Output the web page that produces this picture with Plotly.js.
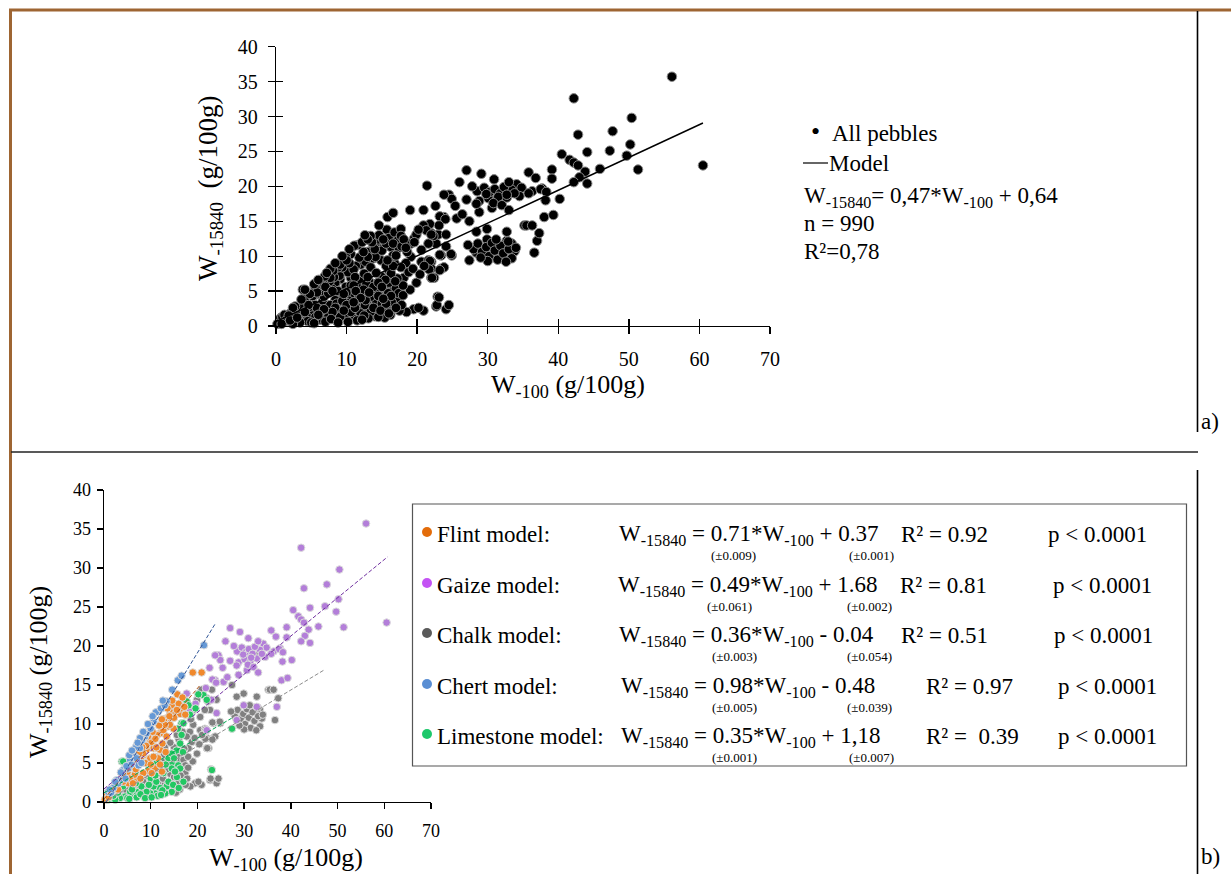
<!DOCTYPE html>
<html>
<head>
<meta charset="utf-8">
<script src="https://cdn.plot.ly/plotly-3.0.1.min.js"></script>
<style>html,body{margin:0;padding:0;background:#fff;}#chart{width:1231px;height:874px;}</style>
</head>
<body>
<div id="chart"></div>
<script>
// ---------------- DATA ----------------
const lithNames = ["Flint", "Gaize", "Chalk", "Chert", "Limestone"];
const slopes = [0.71, 0.49, 0.36, 0.98, 0.35];
const intercepts = [0.37, 1.68, -0.04, -0.48, 1.18];
const interceptLabels = ["+ 0.37", "+ 1.68", "- 0.04", "- 0.48", "+ 1,18"];
const slopeErr = ["(±0.009)", "(±0.061)", "(±0.003)", "(±0.005)", "(±0.001)"];
const interceptErr = ["(±0.001)", "(±0.002)", "(±0.054)", "(±0.039)", "(±0.007)"];
const r2Labels = ["R² = 0.92", "R² = 0.81", "R² = 0.51", "R² = 0.97", "R² =\u00A0\u00A00.39"];
const pLabels = ["p < 0.0001", "p < 0.0001", "p < 0.0001", "p < 0.0001", "p < 0.0001"];
const modelXStart = [0, 0, 0, 0.5, 0];
const modelXEnd = [20.6, 60.7, 47.2, 23.9, 27.3];

const allSlope = 0.47, allIntercept = 0.64, allXEnd = 60.5;
const xTicks = [0, 10, 20, 30, 40, 50, 60, 70];
const yTicks = [0, 5, 10, 15, 20, 25, 30, 35, 40];

const flintX = [19.0,20.9,15.7,14.1,15.2,16.3,17.4,13.3,13.8,12.0,12.7,9.9,10.6,9.1,8.4,9.9,9.5,10.9,12.4,10.2,8.4,11.6,12.0,5.9,7.4,1.3,0.6,6.6,5.2,13.4,14.9,14.5,16.5,12.9,14.1,11.3,10.2,8.4,10.6,6.6,5.6,4.1,2.7,0.2,3.5,4.6,7.2,8.0,11.0,13.0,15.0,16.0,6.2,2.2,9.0,12.5,14.0,
  1.0,1.8,2.5,3.0,3.8,4.3,5.0,5.5,6.0,6.8,7.6,8.2,8.8,9.4,10.4,11.2,11.8,12.4,13.6,14.6,15.6,16.8,17.2,12.0,13.2,10.0,7.8,6.2];
const flintY = [16.6,16.6,13.8,11.6,11.2,11.3,11.2,10.7,9.7,8.8,9.2,7.9,6.9,6.7,6.0,5.6,4.0,4.3,3.9,3.7,3.7,5.6,6.7,6.0,7.5,1.3,1.1,2.9,2.4,8.4,9.4,12.4,12.0,10.6,9.9,8.6,7.7,6.2,5.8,3.5,4.5,2.6,1.5,0.3,2.9,3.3,5.1,5.3,8.1,9.9,10.8,12.6,4.6,1.9,7.2,7.5,11.0,
  0.6,1.4,2.2,1.6,3.6,4.0,3.8,3.0,5.2,4.2,6.4,7.0,5.0,8.4,9.0,7.0,9.8,10.6,12.0,13.0,11.8,13.4,12.2,4.8,6.4,4.8,3.0,2.4];

const gaizeX = [56.1,42.2,50.4,42.8,47.7,50.2,44.1,47.3,49.7,40.5,41.6,42.2,42.8,43.8,45.9,51.3,60.5,39.1,39.1,43.0,42.2,44.1,37.7,34.1,34.8,36.3,37.5,38.3,33.4,34.5,40.2,38.0,39.3,37.0,27.0,29.1,30.9,24.5,24.9,27.0,28.8,30.1,31.3,32.7,23.8,23.8,25.6,23.0,28.8,30.6,32.7,29.9,15.2,17.7,24.1,22.0,28.4,3.4,6.3,18.4,3.1,28.5,29.5,30.3,31.0,31.8,32.3,33.0,33.8,29.8,31.5,28.4,30.8,32.0,35.8,23.2,24.0,
  26.0,27.8,25.4,26.4,22.6,21.8,19.6,16.6,35.8,36.8,38.2,33.0];
const gaizeY = [35.7,32.6,29.8,27.4,27.9,26.0,24.9,25.1,24.4,24.6,23.8,23.4,23.0,22.1,22.5,22.4,23.0,22.4,21.1,21.3,20.6,20.4,19.7,20.3,19.8,19.3,19.6,19.2,19.5,18.6,18.2,15.6,15.9,12.2,22.3,21.8,21.0,18.8,18.2,18.1,17.9,18.3,18.0,18.4,18.8,15.6,15.4,13.1,16.3,16.9,12.2,12.4,12.4,13.9,11.4,9.2,10.5,1.1,2.0,11.6,1.3,19.3,19.8,19.2,19.6,19.0,19.9,20.6,19.0,18.9,18.5,17.5,17.6,17.3,19.0,15.7,15.3,
  20.6,20.0,17.2,16.0,17.2,14.6,12.6,11.8,22.0,21.2,18.0,16.6];

const chalkX = [32.7,19.9,22.0,22.7,19.1,20.6,18.4,22.0,23.4,18.1,19.9,22.4,23.4,24.9,29.9,28.4,27.4,19.5,20.9,22.7,24.1,24.5,16.6,17.4,14.5,15.6,16.3,11.3,13.1,14.5,15.9,7.0,7.7,9.1,10.6,12.0,12.7,17.7,18.8,20.6,19.1,17.0,17.4,20.9,23.1,24.1,35.2,32.7,21.6,23.8,22.0,21.6,35.5,37.3,36.6,33.4,33.8,33.4,22.9,22.8,18.5,20.2,28.0,28.6,29.2,29.8,30.2,30.6,31.0,31.4,31.8,32.2,32.6,33.0,30.0,29.0,31.2,32.9,34.0,27.2,21.8,21.7,22.1,23.2,23.2,24.8,22.3,8.0,9.8,11.0,12.2,13.6,14.8,16.2,16.8,17.5,8.6,10.0,13.0,14.2,15.0,11.8,6.0,5.2,15.0,16.0,16.8,14.5,13.5,12.8,36.3,2.5,4.0,
  3.0,4.5,5.8,6.6,7.4,8.4,9.4,10.4,11.6,12.6,13.4,14.0,15.4,16.4,17.8,18.0,19.0,18.0,16.0,17.2,15.6,14.2,13.0,19.4,20.4,21.0,11.0,9.6,12.4,18.6,17.8];
const chalkY = [18.8,13.1,13.3,11.8,9.9,9.2,9.0,8.2,8.2,6.9,6.2,6.9,10.1,10.1,13.9,13.5,15.0,2.4,2.2,2.8,2.4,3.0,3.9,3.7,5.4,4.3,5.4,3.5,2.6,2.8,2.4,2.4,3.0,2.0,2.8,3.2,4.5,8.4,7.7,10.9,11.8,5.4,4.7,14.4,14.4,13.1,14.4,13.5,11.8,8.4,6.9,9.4,14.4,13.3,10.5,11.8,10.7,9.7,4.2,3.0,2.0,2.6,11.0,11.8,10.6,11.3,10.0,11.9,10.8,9.5,11.5,10.4,9.2,11.0,9.3,9.8,12.4,12.1,11.2,11.6,9.3,8.1,6.9,8.0,10.2,10.3,12.9,1.8,2.4,1.6,2.2,1.8,2.0,1.6,2.8,2.2,3.2,3.3,3.8,3.6,3.2,4.4,1.8,1.5,7.0,8.0,9.0,6.2,5.2,6.0,14.4,1.2,1.9,
  1.0,1.2,2.6,1.2,1.8,2.6,3.6,1.8,2.6,3.0,4.2,1.4,1.2,3.4,3.0,4.4,5.2,5.8,6.2,6.8,8.6,7.6,7.0,8.2,7.4,8.6,5.8,4.6,5.2,10.6,11.4];

const chertX = [21.4,15.8,13.4,11.6,10.6,9.9,8.8,8.1,7.7,6.6,5.2,4.1,3.1,2.0,6.3,7.4,3.4,0.9,11.1,9.1,7.7,6.9,5.6,4.1,2.7,12.2,7.0,8.0,5.8,4.6,1.5,10.0,13.0,
  1.2,2.4,3.6,4.8,5.4,6.0,7.2,8.4,9.4,10.4,12.6,14.6,16.6];
const chertY = [20.1,15.6,12.9,11.6,10.3,9.9,8.4,7.9,6.9,5.8,4.3,3.5,2.4,1.8,5.0,4.7,2.8,1.3,11.5,8.8,8.2,7.1,5.4,4.1,2.8,12.0,5.6,5.0,4.8,3.0,1.2,9.4,12.4,
  1.6,2.6,3.8,4.6,6.0,6.6,7.6,9.0,10.0,11.0,13.0,14.4,16.2];

const limeX = [21.3,22.0,17.7,18.1,16.6,27.4,23.1,14.5,15.9,16.3,15.6,13.4,12.0,10.9,9.9,8.4,7.4,6.3,4.5,3.4,2.4,1.3,3.8,14.5,15.2,13.8,10.6,9.1,14.5,13.1,4.1,5.6,17.0,16.3,15.5,14.5,16.9,12.7,11.3,4.1,5.0,7.0,8.0,11.5,12.5,1.8,0.8,6.8,10.0,
  2.0,3.0,5.4,6.0,7.8,8.8,9.6,10.2,11.2,12.2,13.8,14.8,16.0,17.0,15.0,13.2,12.0,11.0,16.6,15.8,18.4,19.6,20.2];
const limeY = [13.7,13.1,12.9,12.4,10.1,9.4,4.1,5.0,4.7,4.3,3.2,2.0,1.8,1.1,1.1,0.9,1.3,0.9,0.7,0.5,0.3,0.7,5.2,4.3,3.9,5.6,2.0,1.3,1.3,1.1,2.0,1.3,10.1,7.5,6.6,6.2,6.4,3.7,5.0,5.2,0.5,0.6,2.0,0.8,1.5,1.5,0.3,2.4,3.0,
  0.8,1.2,0.4,1.6,1.0,0.5,2.2,0.6,2.6,0.9,2.6,2.2,1.8,2.6,5.6,4.8,4.0,3.4,8.6,9.4,11.2,12.0,13.8];

const fillColors = ["#F0892C", "#B37ED9", "#808080", "#6699D6", "#22C862"];
const dotColors = ["#E36C0A", "#C453F4", "#5A5A5A", "#5A8ED3", "#1DC86B"];
const lineColors = ["#B4581A", "#7030A0", "#8C8C8C", "#2F5597", "#00A850"];

// ---------------- BUILD ----------------
const W = 1231, H = 874;
const px = v => v / W;
const py = v => 1 - v / H;
const FONT = "Liberation Serif, Times New Roman, serif";

const groupX = [flintX, gaizeX, chalkX, chertX, limeX];
const groupY = [flintY, gaizeY, chalkY, chertY, limeY];

const allX = [].concat(flintX, gaizeX, chalkX, chertX, limeX);
const allY = [].concat(flintY, gaizeY, chalkY, chertY, limeY);

const traces = [];
traces.push({
  type: "scatter", mode: "markers", x: allX, y: allY, xaxis: "x", yaxis: "y",
  cliponaxis: false, hoverinfo: "skip",
  marker: { size: 9.5, color: "#000", line: { color: "#8a8a8a", width: 1 } }
});
traces.push({
  type: "scatter", mode: "lines", x: [0, allXEnd], y: [allIntercept, allSlope * allXEnd + allIntercept],
  xaxis: "x", yaxis: "y", line: { color: "#000", width: 1.5 }, hoverinfo: "skip"
});
traces.push({ type: "scatter", mode: "markers", x: [0], y: [0], xaxis: "x3", yaxis: "y3",
  marker: { opacity: 0 }, hoverinfo: "skip" });

const order = [2, 1, 4, 0, 3];
order.forEach(i => {
  traces.push({
    type: "scatter", mode: "markers", x: groupX[i], y: groupY[i], xaxis: "x2", yaxis: "y2",
    cliponaxis: false, hoverinfo: "skip", name: lithNames[i],
    marker: { size: 7.5, color: fillColors[i], line: { color: "#dcdcdc", width: 1 } }
  });
});
[0, 1, 2, 3, 4].forEach(i => {
  const xs = [modelXStart[i], modelXEnd[i]];
  traces.push({
    type: "scatter", mode: "lines", x: xs, y: xs.map(v => slopes[i] * v + intercepts[i]),
    xaxis: "x2", yaxis: "y2", hoverinfo: "skip",
    line: { color: lineColors[i], width: 1, dash: "4px,2px" }
  });
});

const axBase = {
  range: [0, 70], tickvals: xTicks, ticktext: xTicks.map(String),
  showgrid: false, zeroline: false, showline: true, linecolor: "#000", linewidth: 1.3,
  ticks: "outside", tickcolor: "#000", tickwidth: 1.3, fixedrange: true
};
const ayBase = {
  range: [0, 40], tickvals: yTicks, ticktext: yTicks.map(String),
  showgrid: false, zeroline: false, showline: true, linecolor: "#000", linewidth: 1.3,
  ticks: "outside", tickcolor: "#000", tickwidth: 1.3, fixedrange: true
};

const annotations = [];
function ann(text, x, y, size, opts) {
  annotations.push(Object.assign({
    text: text, x: px(x), y: py(y), xref: "paper", yref: "paper",
    showarrow: false, xanchor: "left", yanchor: "middle", borderpad: 0,
    font: { family: FONT, size: size, color: "#000" }
  }, opts || {}));
}

// axis titles
ann("W<sub>-100</sub> (g/100g)", 568, 386, 26, { xanchor: "center" });
ann("W<sub>-15840</sub>\u00A0 (g/100g)", 210, 188, 27, { xanchor: "center", textangle: -90 });
ann("W<sub>-15840</sub> (g/100g)", 40, 672, 26, { xanchor: "center", textangle: -90 });
ann("W<sub>-100</sub> (g/100g)", 286, 859, 26, { xanchor: "center" });

// top legend
ann("•", 815, 132, 26, { xanchor: "center" });
ann("All pebbles", 831, 133, 23);
ann("Model", 828, 163, 23);
ann("W<sub>-15840</sub>= 0,47*W<sub>-100</sub> + 0,64", 803, 197, 23);
ann("n = 990", 803, 223, 23);
ann("R²=0,78", 803, 251, 23);

ann("a)", 1200, 421, 23);
ann("b)", 1200, 856, 23);

// bottom legend rows
const rowY = [534, 585, 635, 686, 736];
const eqX = [618, 617, 618, 620, 620];
const sErrX = [733, 729, 734, 734, 734];
const iErrX = [871, 869, 869, 869, 871];
const r2X = [900, 899, 900, 925, 925];
const pX = [1047, 1052, 1053, 1057, 1057];
const shapes = [];
lithNames.forEach((nm, i) => {
  ann(nm + " model:", 436, rowY[i], 23);
  ann("W<sub>-15840</sub> = " + slopes[i].toFixed(2) + "*W<sub>-100</sub> " + interceptLabels[i], eqX[i], rowY[i] + 1, 23);
  ann(slopeErr[i], sErrX[i], rowY[i] + 21, 13, { xanchor: "center" });
  ann(interceptErr[i], iErrX[i], rowY[i] + 21, 13, { xanchor: "center" });
  ann(r2Labels[i], r2X[i], rowY[i], 23);
  ann(pLabels[i], pX[i], rowY[i], 23);
  shapes.push({ type: "circle", xref: "paper", yref: "paper",
    x0: px(422), x1: px(432), y0: py(rowY[i] + 3), y1: py(rowY[i] - 7),
    fillcolor: dotColors[i], line: { width: 0 } });
});

shapes.push({ type: "rect", xref: "paper", yref: "paper", x0: px(412.5), x1: px(1186.5), y0: py(766), y1: py(504),
  line: { color: "#555", width: 1.2 }, fillcolor: "rgba(0,0,0,0)" });
shapes.push({ type: "line", xref: "paper", yref: "paper", x0: px(803), x1: px(828), y0: py(163), y1: py(163),
  line: { color: "#000", width: 1.2 } });
shapes.push({ type: "line", xref: "paper", yref: "paper", x0: px(9), x1: px(1231), y0: py(10), y1: py(10),
  line: { color: "#9E6532", width: 3 } });
shapes.push({ type: "line", xref: "paper", yref: "paper", x0: px(10.5), x1: px(10.5), y0: py(9), y1: py(874),
  line: { color: "#9E6532", width: 3 } });
shapes.push({ type: "line", xref: "paper", yref: "paper", x0: px(1197.5), x1: px(1197.5), y0: py(11), y1: py(432),
  line: { color: "#000", width: 1.6 } });
shapes.push({ type: "line", xref: "paper", yref: "paper", x0: px(11), x1: px(1198), y0: py(452), y1: py(452),
  line: { color: "#222", width: 1.3 } });
shapes.push({ type: "line", xref: "paper", yref: "paper", x0: px(1197.5), x1: px(1197.5), y0: py(470), y1: py(874),
  line: { color: "#000", width: 1.6 } });

const layout = {
  width: W, height: H, margin: { l: 0, r: 0, t: 0, b: 0 },
  paper_bgcolor: "#fff", plot_bgcolor: "rgba(0,0,0,0)", showlegend: false,
  font: { family: FONT, color: "#000" },
  xaxis: Object.assign({}, axBase, { domain: [px(276), px(770)], anchor: "y", ticklen: 7,
    tickfont: { family: FONT, size: 20 }, ticklabelstandoff: 8 }),
  yaxis: Object.assign({}, ayBase, { domain: [py(326), py(46.7)], anchor: "x", ticklen: 7,
    tickfont: { family: FONT, size: 20 }, ticklabelstandoff: 6 }),
  xaxis3: Object.assign({}, axBase, { overlaying: "x", anchor: "y", ticks: "inside", ticklen: 7,
    showticklabels: false, showline: false }),
  yaxis3: Object.assign({}, ayBase, { overlaying: "y", anchor: "x", ticks: "inside", ticklen: 7,
    showticklabels: false, showline: false }),
  xaxis2: Object.assign({}, axBase, { domain: [px(104), px(431)], anchor: "y2", ticklen: 6,
    tickfont: { family: FONT, size: 18 }, ticklabelstandoff: 6 }),
  yaxis2: Object.assign({}, ayBase, { domain: [py(802), py(490)], anchor: "x2", ticklen: 6,
    tickfont: { family: FONT, size: 18 }, ticklabelstandoff: 2 }),
  annotations: annotations,
  shapes: shapes
};

Plotly.newPlot("chart", traces, layout, { staticPlot: true, displayModeBar: false });
</script>
</body>
</html>
